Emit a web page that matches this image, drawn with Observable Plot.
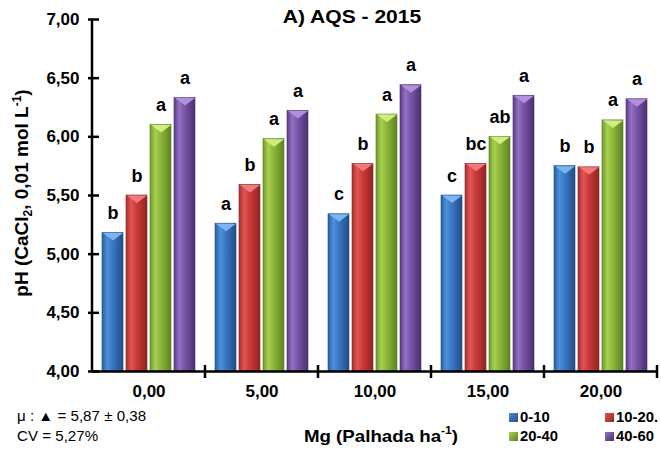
<!DOCTYPE html>
<html>
<head>
<meta charset="utf-8">
<script src="https://cdn.jsdelivr.net/npm/d3@7"></script>
<script src="https://cdn.jsdelivr.net/npm/@observablehq/plot@0.6"></script>
<style>
  body { margin: 0; background: white; font-family: "Liberation Sans", Arial, sans-serif; }
  #wrap { position: relative; width: 661px; height: 451px; overflow: hidden; }
  .ov { position: absolute; white-space: nowrap; color: #000; }
  .title { left: 202px; width: 300px; top: 6px; text-align: center; font-weight: bold; font-size: 18px; line-height: 22px; transform: scaleX(1.17); transform-origin: 150px 0; }
  .note { left: 17px; font-size: 14px; line-height: 16px; transform: scaleX(1.08); transform-origin: 0 0; }
  .xlab { left: 231px; width: 300px; top: 427px; text-align: center; font-weight: bold; font-size: 17px; line-height: 20px; transform: scaleX(1.1); transform-origin: 150px 0; }
  .xlab sup { font-size: 11px; line-height: 0; position: relative; top: -1px; vertical-align: super; }
  .lg { font-weight: bold; font-size: 14px; line-height: 16px; transform: scaleX(1.06); transform-origin: 0 0; }
  .sw { position: absolute; width: 9px; height: 9px; }
</style>
</head>
<body>
<svg width="0" height="0" style="position:absolute">
  <defs id="defs"></defs>
</svg>
<div id="wrap"></div>
<script>
// ---- data ----
const groups = ["0,00", "5,00", "10,00", "15,00", "20,00"];
const series = ["0-10", "10-20.", "20-40", "40-60"];
const v0_10   = [5.18, 5.26, 5.34, 5.50, 5.75];
const v10_20  = [5.50, 5.59, 5.77, 5.77, 5.74];
const v20_40  = [6.10, 5.98, 6.19, 6.00, 6.14];
const v40_60  = [6.33, 6.22, 6.44, 6.35, 6.32];
const l0_10   = ["b", "a", "c", "c", "b"];
const l10_20  = ["b", "b", "b", "bc", "b"];
const l20_40  = ["a", "a", "a", "ab", "a"];
const l40_60  = ["a", "a", "a", "a", "a"];
const yTicks  = [4.0, 4.5, 5.0, 5.5, 6.0, 6.5, 7.0];
const titleText = "A) AQS - 2015";
const noteMean = "μ : ▲ = 5,87 ± 0,38";
const noteCV = "CV = 5,27%";

const seriesValues = [v0_10, v10_20, v20_40, v40_60];
const seriesLetters = [l0_10, l10_20, l20_40, l40_60];

// ---- styles ----
const baseCols = [
  ["#285f9f", "#4d8fdb", "#3a78c4", "#1f4e86"],
  ["#a82e2e", "#e25555", "#cc3a3a", "#8f2424"],
  ["#6f9a2a", "#a8d050", "#8db83a", "#5d8322"],
  ["#5a3c84", "#9470c4", "#7a55aa", "#4a306e"]
];
const topCols = ["#7ab4f2", "#f07a7a", "#d2ec80", "#b090dc"];
const edgeCols = ["#214f88", "#8a2626", "#5b7f20", "#4a3170"];

const defs = d3.select("#defs");
baseCols.forEach((c, i) => {
  const g = defs.append("linearGradient").attr("id", "grad" + i)
    .attr("x1", "0%").attr("x2", "100%").attr("y1", "0%").attr("y2", "0%");
  g.append("stop").attr("offset", "0%").attr("stop-color", c[0]);
  g.append("stop").attr("offset", "25%").attr("stop-color", c[1]);
  g.append("stop").attr("offset", "50%").attr("stop-color", c[2]);
  g.append("stop").attr("offset", "100%").attr("stop-color", c[3]);
});

const data = [];
series.forEach((s, i) => groups.forEach((g, j) => {
  data.push({ g, s, si: i, v: seriesValues[i][j], lab: seriesLetters[i][j] });
}));

const downTri = {
  draw(ctx, size) {
    const r = Math.sqrt(size / Math.PI);
    ctx.moveTo(-r, 0);
    ctx.lineTo(r, 0);
    ctx.lineTo(0, r * 0.75);
    ctx.closePath();
  }
};

const fmt = d => d.toFixed(2).replace(".", ",");

const marks = [];
series.forEach((s, i) => {
  const d = data.filter(e => e.si === i);
  marks.push(Plot.barY(d, { fx: "g", x: "s", y1: 4, y2: "v", fill: `url(#grad${i})`, stroke: edgeCols[i], strokeWidth: 0.6 }));
  marks.push(Plot.dot(d, { fx: "g", x: "s", y: "v", symbol: downTri, r: 10, fill: topCols[i], stroke: "none" }));
});
marks.push(Plot.text(data, { fx: "g", x: "s", y: "v", text: "lab", lineAnchor: "bottom", dy: -14, fontWeight: "bold", fontSize: 18, fill: "black" }));
marks.push(Plot.ruleY([4], { stroke: "black", strokeWidth: 2.5 }));
marks.push(Plot.axisY({ ticks: yTicks, tickFormat: fmt, tickSize: 4, tickPadding: 9, fontSize: 17, fontWeight: "bold", strokeWidth: 2.5, label: null }));
marks.push(Plot.axisY({ ticks: yTicks, tickFormat: () => "", tickSize: -7, strokeWidth: 2.5, label: null }));
marks.push(Plot.axisFx({ anchor: "bottom", tickSize: 0, tickPadding: 13, fontSize: 17, fontWeight: "bold", label: null }));

const chart = Plot.plot({
  width: 661, height: 451,
  marginLeft: 91, marginRight: 4, marginTop: 19, marginBottom: 80,
  style: { fontFamily: "'Liberation Sans', Arial, sans-serif", background: "white", color: "black" },
  fx: { domain: groups, padding: 0, label: null },
  x: { domain: series, paddingInner: 0.115, paddingOuter: 0.38, axis: null },
  y: { domain: [4, 7] },
  marks
});

// axis line, group boundary ticks and y label using the plot's own scales
const svg = d3.select(chart);
const fx = chart.scale("fx"), y = chart.scale("y");
const x0 = fx.apply(groups[0]);
svg.append("line").attr("x1", x0).attr("x2", x0)
  .attr("y1", y.apply(4)).attr("y2", y.apply(7))
  .attr("stroke", "black").attr("stroke-width", 2.5);
const bounds = groups.map(g => fx.apply(g)).concat([fx.apply(groups[groups.length - 1]) + fx.bandwidth]);
bounds.slice(1).forEach(bx => {
  svg.append("line").attr("x1", bx).attr("x2", bx)
    .attr("y1", y.apply(4) - 6).attr("y2", y.apply(4) + 7)
    .attr("stroke", "black").attr("stroke-width", 2.5);
});
const yl = svg.append("text")
  .attr("transform", `translate(28,${(y.apply(4) + y.apply(7)) / 2 - 2}) rotate(-90)`)
  .attr("text-anchor", "middle")
  .attr("font-weight", "bold").attr("font-size", 19)
  .attr("font-family", "'Liberation Sans', Arial, sans-serif")
  .attr("fill", "black");
yl.append("tspan").text("pH (CaCl");
yl.append("tspan").attr("font-size", 12).attr("dy", 4).text("2");
yl.append("tspan").attr("dy", -4).text(", 0,01 mol L");
yl.append("tspan").attr("font-size", 12).attr("dy", -7).text("-1");
yl.append("tspan").attr("dy", 7).text(")");

const wrap = document.getElementById("wrap");
wrap.appendChild(chart);

function ov(cls, html, style) {
  const d = document.createElement("div");
  d.className = "ov " + cls;
  d.innerHTML = html;
  if (style) Object.assign(d.style, style);
  wrap.appendChild(d);
  return d;
}
ov("title", titleText);
ov("note", noteMean, { top: "408px" });
ov("note", noteCV, { top: "428px" });
ov("xlab", "Mg (Palhada ha<sup>-1</sup>)");
const legPos = [[509, 413], [605, 413], [509, 432], [605, 432]];
series.forEach((s, i) => {
  const sw = document.createElement("div");
  sw.className = "sw";
  sw.style.left = legPos[i][0] + "px";
  sw.style.top = legPos[i][1] + "px";
  sw.style.background = `linear-gradient(135deg, ${baseCols[i][1]}, ${baseCols[i][3]})`;
  wrap.appendChild(sw);
  ov("lg", s, { left: (legPos[i][0] + 11) + "px", top: (legPos[i][1] - 4) + "px" });
});
</script>
</body>
</html>
